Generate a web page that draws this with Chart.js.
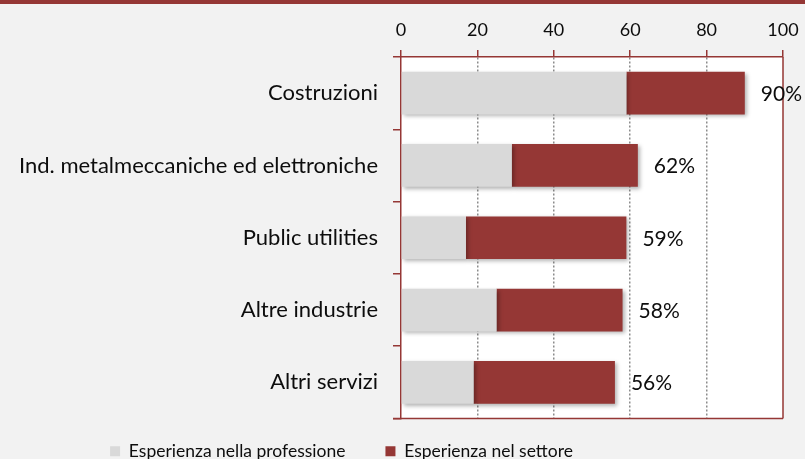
<!DOCTYPE html>
<html>
<head>
<meta charset="utf-8">
<script src="https://cdn.jsdelivr.net/npm/chart.js@4.4.0/dist/chart.umd.min.js"></script>
<style>
  html, body { margin: 0; padding: 0; background: #f2f2f2; overflow: hidden; }
  #topbar { position: absolute; left: 0; top: 0; width: 805px; height: 4px; background: #953735; }
  #wrap { position: absolute; left: 0; top: 0; width: 805px; height: 486px; }
</style>
</head>
<body>
<div id="wrap"><canvas id="graf"></canvas></div>
<div id="topbar"></div>
<script>
// dati
const categorie = ['Costruzioni', 'Ind. metalmeccaniche ed elettroniche', 'Public utilities', 'Altre industrie', 'Altri servizi'];
const professione = [59, 29, 17, 25, 19];
const settore = [31, 33, 42, 33, 37];
const totali = [90, 62, 59, 58, 56];
const tickValori = [0, 20, 40, 60, 80, 100];

const rosso = '#953735';
const grigio = '#d9d9d9';
const font = "Lato, 'Open Sans', sans-serif";

// sfondo bianco dell'area del grafico
const sfondo = {
    id: 'sfondo',
    beforeDraw(chart) {
        const a = chart.chartArea;
        chart.ctx.save();
        chart.ctx.fillStyle = '#ffffff';
        chart.ctx.fillRect(a.left, a.top, a.right - a.left, a.bottom - a.top);
        chart.ctx.restore();
    }
};

// ombra sotto le barre
const ombra = {
    id: 'ombra',
    beforeDatasetsDraw(chart) {
        const ctx = chart.ctx;
        ctx.save();
        ctx.shadowColor = 'rgba(0,0,0,0.3)';
        ctx.shadowBlur = 4;
        ctx.shadowOffsetX = 2;
        ctx.shadowOffsetY = 2;
    },
    afterDatasetsDraw(chart) {
        chart.ctx.restore();
    }
};

// sposta la legenda come nell'originale
const spostaLegenda = {
    id: 'spostaLegenda',
    afterLayout(chart) {
        const l = chart.legend;
        l.left -= 50;
        l.right -= 50;
        l.top -= 16;
        l.bottom -= 16;
    }
};

// bordo destro e in basso + etichette percentuali
const cornice = {
    id: 'cornice',
    afterDraw(chart) {
        const ctx = chart.ctx;
        const a = chart.chartArea;
        ctx.save();
        ctx.strokeStyle = rosso;
        ctx.lineWidth = 1.5;
        ctx.beginPath();
        ctx.moveTo(a.right, a.top);
        ctx.lineTo(a.right, a.bottom);
        ctx.moveTo(a.left - 8, a.bottom);
        ctx.lineTo(a.right, a.bottom);
        ctx.stroke();

        const meta = chart.getDatasetMeta(1);
        ctx.fillStyle = '#0d0d0d';
        ctx.font = '21px ' + font;
        ctx.textBaseline = 'middle';
        meta.data.forEach((bar, i) => {
            ctx.fillText(totali[i] + '%', bar.x + 16, bar.y + 1);
        });
        ctx.restore();
    }
};

new Chart(document.getElementById('graf'), {
    type: 'bar',
    data: {
        labels: categorie,
        datasets: [{
            label: 'Esperienza nella professione',
            data: professione,
            backgroundColor: grigio
        }, {
            label: 'Esperienza nel settore',
            data: settore,
            backgroundColor: rosso
        }]
    },
    options: {
        indexAxis: 'y',
        responsive: true,
        maintainAspectRatio: false,
        animation: false,
        layout: { padding: { left: 0, right: 22, top: 0, bottom: 0 } },
        categoryPercentage: 0.59,
        barPercentage: 1,
        scales: {
            x: {
                position: 'top',
                stacked: true,
                min: 0,
                max: 100,
                afterBuildTicks(scale) {
                    scale.ticks = tickValori.map(v => ({ value: v }));
                },
                afterFit(scale) {
                    scale.height = 57;
                },
                border: { color: rosso, width: 1.5, dash: [2, 2] },
                grid: {
                    color: ctx => (ctx.tick && (ctx.tick.value === 0 || ctx.tick.value === 100)) ? 'rgba(0,0,0,0)' : '#8c8c8c',
                    tickColor: rosso,
                    tickBorderDash: [],
                    tickLength: 7,
                    lineWidth: 1.5
                },
                ticks: { color: '#0d0d0d', font: { family: font, size: 18, lineHeight: 1.89 }, padding: 3 }
            },
            y: {
                stacked: true,
                afterFit(scale) {
                    scale.width = 401;
                },
                border: { color: rosso, width: 1.5 },
                grid: {
                    offset: true,
                    drawOnChartArea: false,
                    color: rosso,
                    tickLength: 8,
                    lineWidth: 1.5
                },
                ticks: { color: '#0d0d0d', font: { family: font, size: 22 }, padding: 15 }
            }
        },
        plugins: {
            legend: {
                position: 'bottom',
                labels: {
                    boxWidth: 10,
                    boxHeight: 10,
                    padding: 40,
                    color: '#0d0d0d',
                    font: { family: font, size: 17.5 }
                }
            },
            tooltip: { enabled: false }
        }
    },
    plugins: [sfondo, ombra, spostaLegenda, cornice]
});
</script>
</body>
</html>
